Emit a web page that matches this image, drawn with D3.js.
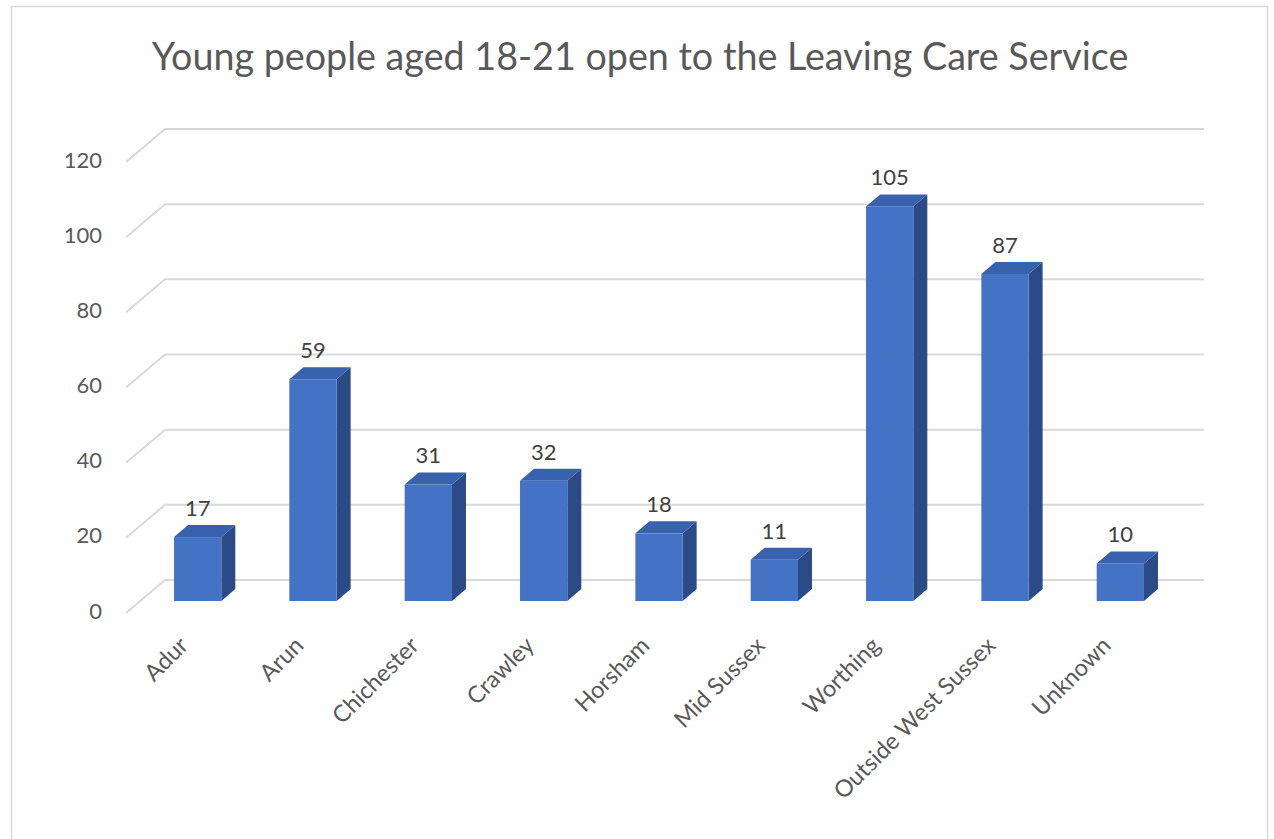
<!DOCTYPE html>
<html>
<head>
<meta charset="utf-8">
<script src="https://cdn.jsdelivr.net/npm/d3@7"></script>
<style>
  html, body { margin: 0; padding: 0; background: #fff; }
  svg { display: block; }
  text { font-family: Lato, "Open Sans", sans-serif; }
</style>
</head>
<body>
<svg id="chart" width="1274" height="839"></svg>
<script>
const categories = ["Adur", "Arun", "Chichester", "Crawley", "Horsham", "Mid Sussex", "Worthing", "Outside West Sussex", "Unknown"];
const values = [17, 59, 31, 32, 18, 11, 105, 87, 10];
const tickValues = [0, 20, 40, 60, 80, 100, 120];
const title = "Young people aged 18-21 open to the Leaving Care Service";

const svg = d3.select("#chart");

// chart border
svg.append("rect")
  .attr("x", 11.5).attr("y", 6.5)
  .attr("width", 1256).attr("height", 850)
  .attr("fill", "#fff").attr("stroke", "#d9d9d9").attr("stroke-width", 1.5);

// title
svg.append("text")
  .attr("x", 640).attr("y", 70)
  .attr("text-anchor", "middle")
  .attr("fill", "#595959")
  .style("font-size", "37.7px")
  .text(title);

// 3D geometry
const wallDX = 39, wallDY = -33;   // depth of the floor / side wall
const barDX = 14, barDY = -12;     // depth of each bar
const frontBase = 613;             // front edge of floor (value 0)
const barBase = 601;               // base of bar front faces

const yFront = d3.scaleLinear().domain([0, 120]).range([frontBase, frontBase - 451]);
const yBack = d3.scaleLinear().domain([0, 120]).range([frontBase + wallDY, frontBase + wallDY - 451]);
const yBar = d3.scaleLinear().domain([0, 120]).range([barBase, barBase - 451]);

const x = d3.scaleBand().domain(categories).range([140, 1178])
  .paddingInner(0.59).paddingOuter(0.295);

const frontX0 = 126, backX0 = frontX0 + wallDX, backX1 = 1204;

// gridlines: side wall diagonal + back wall horizontal
const grid = svg.append("g").attr("stroke", "#d9d9d9").attr("stroke-width", 2).attr("fill", "none");
grid.selectAll("path").data(tickValues).join("path")
  .attr("d", v => `M${frontX0},${yFront(v)}L${backX0},${yBack(v)}L${backX1},${yBack(v)}`);

// y axis labels
const yAxis = d3.axisLeft(yFront).tickValues(tickValues).tickSize(0).tickPadding(0);
const yg = svg.append("g").attr("transform", "translate(102,-2)").call(yAxis);
yg.select(".domain").remove();
yg.selectAll("text").attr("fill", "#595959").style("font-size", "22px").style("font-family", "Lato, sans-serif");

// bars
const colFront = "#4472c4", colSide = "#2b4b87", colTop = "#3862ae";
const bars = svg.append("g").selectAll("g").data(categories).join("g");
bars.each(function(c, i) {
  const g = d3.select(this);
  const v = values[i];
  const x0 = x(c), w = x.bandwidth(), yt = yBar(v), yb = yBar(0);
  g.append("path").attr("fill", colSide)
    .attr("d", `M${x0 + w},${yt}L${x0 + w + barDX},${yt + barDY}L${x0 + w + barDX},${yb + barDY}L${x0 + w},${yb}Z`);
  g.append("path").attr("fill", colTop)
    .attr("d", `M${x0},${yt}L${x0 + barDX},${yt + barDY}L${x0 + w + barDX},${yt + barDY}L${x0 + w},${yt}Z`);
  g.append("rect").attr("fill", colFront)
    .attr("x", x0).attr("y", yt).attr("width", w).attr("height", yb - yt);
  g.append("text")
    .attr("x", x0 + w / 2).attr("y", yt - 21)
    .attr("text-anchor", "middle")
    .attr("fill", "#404040")
    .style("font-size", "22px")
    .text(v);
});

// category labels
svg.append("g").selectAll("text").data(categories).join("text")
  .attr("transform", c => `translate(${x(c) + x.bandwidth() / 2 - 8},647) rotate(-45)`)
  .attr("text-anchor", "end")
  .attr("fill", "#595959")
  .style("font-size", "23.5px")
  .text(c => c);
</script>
</body>
</html>
